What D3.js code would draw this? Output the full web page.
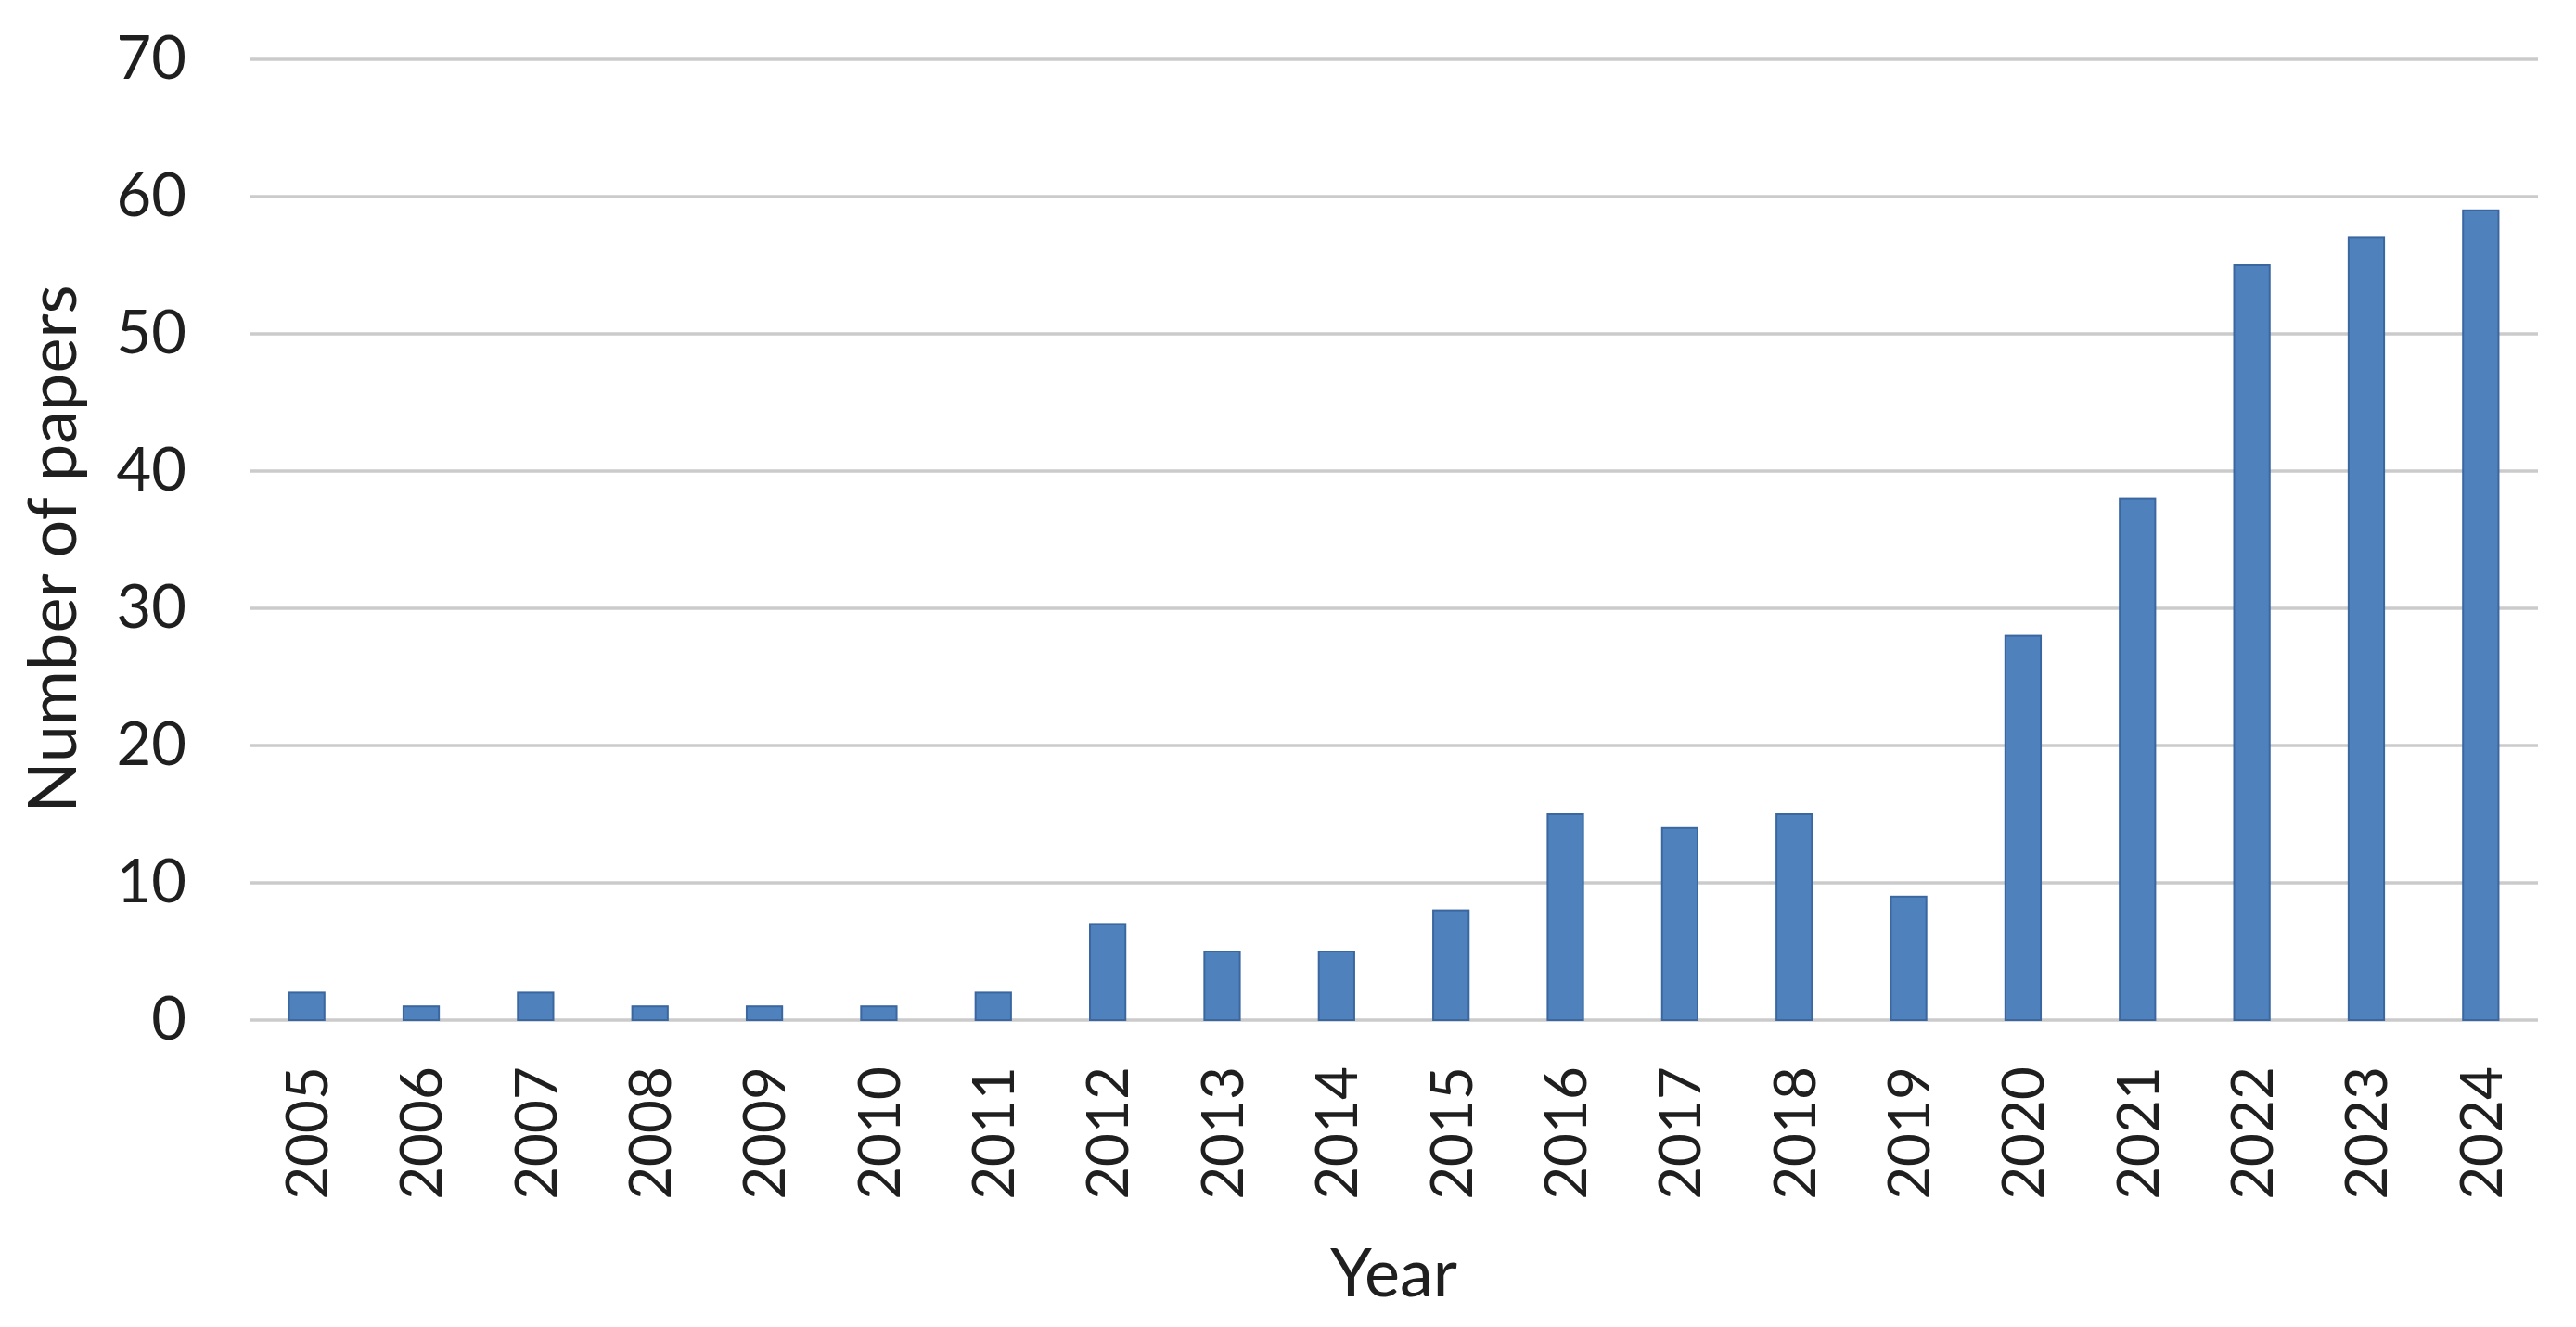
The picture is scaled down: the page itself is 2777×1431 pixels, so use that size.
<!DOCTYPE html>
<html>
<head>
<meta charset="utf-8">
<script src="https://cdn.jsdelivr.net/npm/d3@7"></script>
<style>
  html, body { margin: 0; padding: 0; background: #ffffff; }
  svg { display: block; }
  text { font-family: Lato, "Open Sans", sans-serif; fill: #1f1f1f; }
</style>
</head>
<body>
<svg id="chart" width="2777" height="1431"></svg>
<script>
const years = ["2005","2006","2007","2008","2009","2010","2011","2012","2013","2014",
               "2015","2016","2017","2018","2019","2020","2021","2022","2023","2024"];
const papers = [2, 1, 2, 1, 1, 1, 2, 7, 5, 5, 8, 15, 14, 15, 9, 28, 38, 55, 57, 59];
const yTicks = [0, 10, 20, 30, 40, 50, 60, 70];
const xTitle = "Year";
const yTitle = "Number of papers";

const W = 2777, H = 1431;
const margin = { left: 269, right: 41, top: 64, bottom: 331 };
const plotW = W - margin.left - margin.right;
const plotH = H - margin.top - margin.bottom;

const svg = d3.select("#chart");
const g = svg.append("g").attr("transform", `translate(${margin.left},${margin.top})`);

const x = d3.scaleBand().domain(years).range([0, plotW]).paddingInner(0.69).paddingOuter(0.345);
const y = d3.scaleLinear().domain([0, 70]).range([plotH, 0]);

// gridlines
g.append("g").selectAll("line").data(yTicks).join("line")
  .attr("x1", 0).attr("x2", plotW)
  .attr("y1", d => y(d)).attr("y2", d => y(d))
  .attr("stroke", "#cbcbcb").attr("stroke-width", 3.5);

// y axis labels
const yAxis = d3.axisLeft(y).tickValues(yTicks).tickSize(0).tickPadding(68);
const yg = g.append("g").call(yAxis);
yg.select(".domain").remove();
yg.selectAll("text").style("font-size", "65px").attr("fill", "#1f1f1f")
  .style("font-family", "Lato, 'Open Sans', sans-serif");

// bars
g.append("g").selectAll("rect").data(papers).join("rect")
  .attr("x", (d, i) => x(years[i]))
  .attr("y", d => y(d))
  .attr("width", x.bandwidth())
  .attr("height", d => plotH - y(d))
  .attr("fill", "#4f81bd")
  .attr("stroke", "#3a67a0")
  .attr("stroke-width", 2);

// x axis labels (rotated)
const xAxis = d3.axisBottom(x).tickSize(0).tickPadding(0);
const xg = g.append("g").attr("transform", `translate(0,${plotH})`).call(xAxis);
xg.select(".domain").remove();
xg.selectAll("text")
  .style("font-size", "62px")
  .style("font-family", "Lato, 'Open Sans', sans-serif")
  .attr("fill", "#1f1f1f")
  .attr("text-anchor", "end")
  .attr("transform", "translate(0,50) rotate(-90)")
  .attr("x", 0).attr("y", 0).attr("dy", "0.36em");

// axis titles
svg.append("text")
  .attr("x", margin.left + plotW / 2).attr("y", 1398)
  .attr("text-anchor", "middle")
  .style("font-size", "72px")
  .text(xTitle);

svg.append("text")
  .attr("transform", `translate(82,${margin.top + plotH / 2 + 10}) rotate(-90)`)
  .attr("text-anchor", "middle")
  .style("font-size", "72px")
  .text(yTitle);
</script>
</body>
</html>
